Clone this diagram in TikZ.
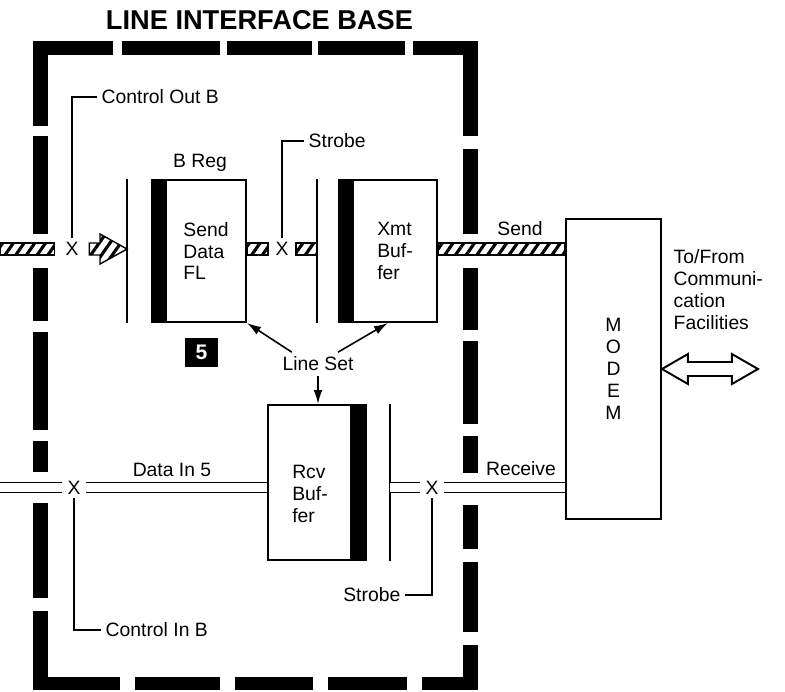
\documentclass[tikz,border=0pt]{standalone}
\usepackage{fontspec}
\setmainfont{Liberation Sans}
\usetikzlibrary{arrows.meta,calc,patterns.meta}
% hatched bus between two points on its centre line
\newcommand{\hatchbar}[2]{\path[lifHatch] ($(#1)+(0,-6)$) rectangle ($(#2)+(0,6)$);}
\begin{document}
\begin{tikzpicture}[x=0.02cm, y=-0.02cm,
    lifLbl/.style={font=\fontsize{11}{12.5}\selectfont, inner sep=2.5pt},
    lifBox/.style={draw, line width=1.1pt, align=left, inner sep=0pt, font=\fontsize{11}{12.5}\selectfont},
    lifThin/.style={line width=1.1pt},
    lifX/.style={font=\fontsize{11}{12.5}\selectfont, inner xsep=3pt, inner ysep=2pt},
    lifHatch/.style={draw, line width=0.8pt, pattern={Lines[angle=55,distance=5pt,line width=1.8pt]}},
    lifDbl/.style={double, double distance=4.8pt, line width=0.8pt},
    lifArr/.style={-{Latex[length=8pt,width=5pt]}, line width=0.9pt},
]
\useasboundingbox (0,0) rectangle (785,691);
% title and dashed frame
\node[font=\fontsize{15.5}{18}\selectfont\bfseries] (title) at (259.5,20) {LINE INTERFACE BASE};
\foreach \a/\b in {33/113,122/220,227/312,318/405,413/477} \fill (\a,41) rectangle (\b,55);
\foreach \a/\b in {33/120,135/220,235/313,328/407,422/477} \fill (\a,677) rectangle (\b,690);
\foreach \a/\b in {41/126,136/234,268/321,332/430,441/472,503/598,611/690} \fill (33,\a) rectangle (48,\b);
\foreach \a/\b in {41/136,149/234,268/330,341/424,436/473,505/549,562/632,645/690} \fill (463,\a) rectangle (478,\b);
% registers and modem
\node[lifBox, minimum width=1.6cm, minimum height=2.84cm] (sdfl) at (206,251) {Send\\Data\\FL};
\fill (sdfl.north west) rectangle ($(sdfl.south west)+(-14,0)$);
\node[lifLbl] (breg) at (200,163) {B Reg};
\node[lifBox, minimum width=1.68cm, minimum height=2.84cm] (xmt) at (395,251) {Xmt\\Buf-\\fer};
\fill (xmt.north west) rectangle ($(xmt.south west)+(-14,0)$);
\node[lifBox, minimum width=1.66cm, minimum height=3.1cm] (rcv) at (309.5,482.5) {};
\fill (rcv.north east) rectangle ($(rcv.south east)+(15,0)$);
\node[lifLbl, align=left] (rcvtxt) at (310,494) {Rcv\\Buf-\\fer};
\node[lifBox, align=center, minimum width=1.9cm, minimum height=6cm] (modem) at (613.5,369) {M\\O\\D\\E\\M};
% gate lines
\coordinate (sgate) at ($(sdfl.west)+(-38,0)$);
\coordinate (tgate) at ($(xmt.west)+(-35,0)$);
\coordinate (rgate) at ($(rcv.east)+(38,0)$);
\draw[lifThin] (sgate|-sdfl.north) -- (sgate|-sdfl.south);
\draw[lifThin] (tgate|-xmt.north) -- (tgate|-xmt.south);
\draw[lifThin] (rgate|-rcv.north) -- (rgate|-rcv.south);
% X points
\node[lifX, inner xsep=6pt] (xco) at (72,249) {X};
\node[lifX, inner xsep=4pt] (xstb) at (282,249) {X};
\node[lifX] (xdi) at (74,487.5) {X};
\node[lifX] (xrcv) at (432,487.5) {X};
% send bus
\coordinate (sendin) at (0,249);
\hatchbar{sendin}{xco.west}
\path[lifHatch] ($(xco.east)+(0,-6)$) -- ($(sgate|-xco)+(-27,-6)$) -- ($(sgate|-xco)+(-27,-15)$)
  -- (sgate|-xco) -- ($(sgate|-xco)+(-27,15)$) -- ($(sgate|-xco)+(-27,6)$) -- ($(xco.east)+(0,6)$) -- cycle;
\hatchbar{sdfl.east|-xstb}{xstb.west}
\hatchbar{xstb.east}{tgate|-xstb}
\hatchbar{xmt.east|-xstb}{modem.west|-xstb}
% receive bus
\coordinate (datain) at (0,487.5);
\draw[lifDbl] (datain) -- (xdi.west);
\draw[lifDbl] (xdi.east) -- (rcv.west|-xdi);
\draw[lifDbl] (rgate|-xrcv) -- (xrcv.west);
\draw[lifDbl] (xrcv.east) -- (modem.west|-xrcv);
% control and strobe labels
\node[lifLbl, anchor=west] (ctlout) at (97,97) {Control Out B};
\draw[lifThin] (xco.north) |- (ctlout.west);
\node[lifLbl, anchor=west] (stbtop) at (304,141) {Strobe};
\draw[lifThin] (xstb.north) |- (stbtop.west);
\node[lifLbl, anchor=west] (ctlin) at (101,630) {Control In B};
\draw[lifThin] (xdi.south) |- (ctlin.west);
\node[lifLbl, anchor=east] (stbbot) at (405,595) {Strobe};
\draw[lifThin] (xrcv.south) |- (stbbot.east);
\node[lifLbl] (datalbl) at (172,470) {Data In 5};
\node[lifLbl] (sendlbl) at (520,229) {Send};
\node[lifLbl] (rcvlbl) at (521,469) {Receive};
\node[lifLbl, align=left, anchor=west] (tofrom) at (669,290) {To/From\\Communi-\\cation\\Facilities};
% line set
\node[lifLbl] (lineset) at (318,364) {Line Set};
\node[fill=black, text=white, font=\fontsize{12}{14}\selectfont\bfseries, minimum width=0.66cm, minimum height=0.58cm, inner sep=0pt] (five) at (201.5,352.5) {5};
\draw[lifArr] ($(lineset.north west)+(14,0)$) -- (sdfl.south east);
\draw[lifArr] ($(lineset.north)+(20,0)$) -- ($(xmt.south)+(-7,0)$);
\draw[lifArr] (lineset.south) -- (lineset.south|-rcv.north);
% to/from double arrow
\draw[line width=1.1pt, fill=white] (modem.east) -- ++(26,-15) -- ++(0,8) -- ++(44,0) -- ++(0,-8) -- ++(26,15)
  -- ++(-26,15) -- ++(0,-8) -- ++(-44,0) -- ++(0,8) -- cycle;
\end{tikzpicture}
\end{document}
